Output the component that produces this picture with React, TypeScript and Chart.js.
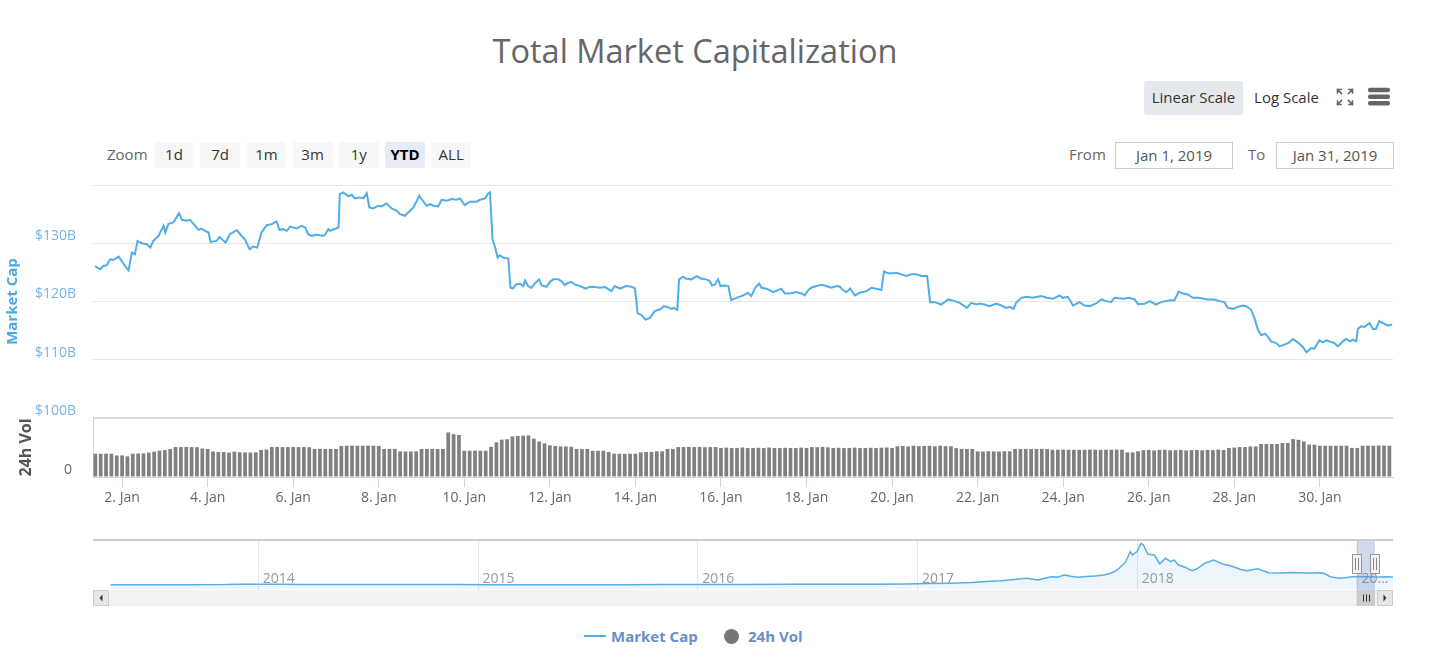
import React, { useEffect, useRef } from "react";
import { Chart, registerables } from "chart.js";

Chart.register(...registerables);

const FONT = "'Open Sans', sans-serif";
const LINE_COLOR = "#4fadea";

// ---- Main series: market cap (days after Jan 1 2019 00:00, $B) ----
const capDays = [
  0.37, 0.42, 0.49, 0.56, 0.64, 0.72, 0.8, 0.92, 0.99, 1.07, 1.15, 1.23, 1.3, 1.36, 1.46, 1.58, 1.66, 1.73, 1.85, 1.97,
  2.01, 2.08, 2.2, 2.33, 2.4, 2.51, 2.59, 2.71, 2.78, 2.86, 2.94, 3.02, 3.07, 3.21, 3.28, 3.35, 3.42, 3.52, 3.68, 3.76,
  3.87, 3.98, 4.07, 4.16, 4.26, 4.38, 4.5, 4.61, 4.68, 4.77, 4.85, 4.93, 5.08, 5.2, 5.28, 5.35, 5.43, 5.55, 5.67, 5.74,
  5.82, 5.86, 6.06, 6.09, 6.17, 6.29, 6.37, 6.44, 6.56, 6.64, 6.72, 6.78, 6.87, 6.99, 7.07, 7.18, 7.3, 7.42, 7.5, 7.61,
  7.73, 7.81, 7.89, 7.95, 8.0, 8.12, 8.2, 8.28, 8.39, 8.47, 8.59, 8.7, 8.82, 8.9, 9.01, 9.13, 9.29, 9.37, 9.48, 9.56,
  9.6, 9.66, 9.71, 9.78, 9.83, 9.91, 10.03, 10.08, 10.14, 10.21, 10.3, 10.38, 10.42, 10.49, 10.57, 10.65, 10.75, 10.81, 10.92, 11.0,
  11.08, 11.19, 11.27, 11.35, 11.43, 11.51, 11.58, 11.66, 11.74, 11.84, 11.93, 12.05, 12.17, 12.29, 12.44, 12.52, 12.64, 12.78, 12.91, 12.99,
  13.05, 13.14, 13.24, 13.34, 13.45, 13.57, 13.67, 13.76, 13.84, 13.9, 13.98, 14.02, 14.12, 14.19, 14.31, 14.43, 14.54, 14.66, 14.74, 14.79,
  14.86, 14.93, 14.99, 15.09, 15.17, 15.24, 15.36, 15.52, 15.63, 15.71, 15.79, 15.89, 15.95, 16.06, 16.14, 16.22, 16.33, 16.41, 16.49, 16.61,
  16.76, 16.88, 16.96, 17.04, 17.11, 17.23, 17.35, 17.46, 17.58, 17.7, 17.78, 17.85, 17.93, 18.02, 18.13, 18.24, 18.4, 18.52, 18.63, 18.75,
  18.81, 18.91, 19.02, 19.1, 19.22, 19.33, 19.45, 19.57, 19.68, 19.82, 19.89, 20.0, 20.15, 20.31, 20.46, 20.58, 20.67, 20.75, 20.85, 20.97,
  21.05, 21.16, 21.28, 21.44, 21.55, 21.67, 21.75, 21.84, 21.9, 22.02, 22.14, 22.29, 22.49, 22.62, 22.76, 22.92, 22.99, 23.11, 23.23, 23.38,
  23.5, 23.62, 23.77, 23.89, 24.01, 24.12, 24.2, 24.4, 24.55, 24.67, 24.75, 24.9, 25.03, 25.17, 25.29, 25.49, 25.6, 25.7, 25.8, 25.91,
  26.03, 26.15, 26.26, 26.38, 26.54, 26.65, 26.77, 26.85, 26.97, 27.08, 27.2, 27.28, 27.39, 27.47, 27.55, 27.63, 27.71, 27.78, 27.86, 27.98,
  28.06, 28.17, 28.29, 28.37, 28.45, 28.52, 28.6, 28.69, 28.8, 28.87, 28.99, 29.07, 29.15, 29.26, 29.34, 29.42, 29.54, 29.61, 29.71, 29.77,
  29.85, 29.89, 29.96, 30.04, 30.16, 30.24, 30.31, 30.39, 30.51, 30.59, 30.69,
];
const capValues = [
  126.09, 125.81, 125.52, 126.09, 126.21, 127.24, 127.13, 127.7, 126.96, 126.09, 125.35, 128.39, 128.1, 130.4, 130.0, 129.83, 129.25, 130.4, 131.27, 132.99,
  131.84, 133.28, 133.56, 135.17, 134.02, 133.85, 134.02, 132.99, 132.3, 132.53, 132.13, 131.84, 130.23, 130.4, 131.09, 130.58, 130.12, 131.55, 132.24, 131.55,
  130.69, 128.97, 129.43, 129.25, 131.84, 133.1, 133.28, 133.74, 132.3, 132.42, 132.13, 132.87, 132.53, 132.99, 132.7, 131.55, 131.27, 131.44, 131.27, 131.38,
  132.42, 132.13, 132.7, 138.45, 138.74, 138.05, 138.33, 137.7, 137.87, 137.7, 138.56, 136.15, 135.98, 136.44, 136.32, 136.84, 135.98, 135.58, 135.0, 134.71,
  135.58, 136.15, 137.3, 138.16, 137.59, 136.44, 136.73, 136.44, 136.32, 137.47, 137.3, 137.59, 137.47, 137.7, 136.55, 137.13, 137.13, 137.47, 137.7, 138.56,
  138.74, 130.69, 129.54, 127.53, 127.93, 127.53, 127.36, 122.36, 122.24, 122.93, 123.05, 122.65, 123.62, 122.65, 122.36, 123.11, 123.8, 122.76, 122.53, 123.34,
  123.8, 123.8, 123.51, 122.82, 123.22, 123.34, 122.93, 122.76, 122.53, 122.19, 122.53, 122.47, 122.36, 122.47, 121.78, 122.65, 122.19, 122.65, 122.53, 122.24,
  118.05, 117.65, 116.9, 117.19, 118.34, 118.62, 119.2, 119.02, 118.74, 118.91, 118.56, 123.8, 124.25, 123.91, 123.8, 124.37, 123.91, 123.8, 123.51, 122.76,
  122.93, 123.8, 122.65, 122.76, 122.65, 120.23, 120.63, 121.04, 121.5, 120.92, 122.24, 123.11, 122.36, 122.19, 121.96, 121.61, 121.96, 122.19, 121.38, 121.38,
  121.61, 121.38, 121.04, 121.96, 122.36, 122.65, 122.88, 122.65, 122.36, 122.65, 122.53, 121.96, 121.61, 122.24, 121.04, 121.5, 121.78, 122.36, 122.19, 121.96,
  125.17, 124.83, 124.83, 124.94, 124.66, 124.37, 124.66, 124.66, 124.37, 124.37, 119.89, 119.89, 119.48, 120.35, 120.06, 119.77, 119.31, 118.91, 119.77, 119.48,
  119.66, 119.48, 119.2, 119.66, 119.31, 118.91, 119.08, 118.74, 119.77, 120.63, 120.81, 120.63, 120.92, 120.63, 120.46, 121.04, 120.63, 120.81, 119.31, 119.89,
  119.31, 119.2, 119.66, 120.35, 120.06, 119.89, 120.63, 120.46, 120.63, 120.35, 119.54, 119.6, 120.06, 119.48, 119.89, 120.23, 120.23, 121.67, 121.38, 121.21,
  120.63, 120.63, 120.52, 120.35, 120.35, 120.06, 119.89, 118.91, 118.74, 119.08, 119.31, 119.2, 118.62, 117.19, 115.17, 114.2, 114.48, 114.02, 113.16, 112.87,
  112.3, 112.59, 112.99, 113.56, 113.16, 112.76, 112.19, 111.27, 112.01, 111.9, 113.33, 112.99, 113.33, 113.05, 112.87, 112.3, 113.16, 113.56, 113.16, 113.45,
  113.16, 115.29, 115.75, 115.63, 116.32, 115.29, 115.29, 116.61, 116.15, 115.86, 116.04,
];

// ---- 24h volume ($B), one bar every 3 hours starting Jan 1 09:00 ----
const volStartDay = 0.375;
const volStepDays = 0.125;
const volValues = [
  15.8, 15.8, 15.8, 15.8, 14.6, 14.6, 14.0, 15.8, 15.9, 16.0,
  16.5, 17.2, 17.8, 18.2, 19.0, 20.3, 20.3, 20.4, 20.3, 20.2,
  19.3, 19.0, 17.3, 17.0, 16.9, 16.6, 17.2, 16.8, 16.7, 16.6,
  16.7, 18.3, 18.6, 20.3, 20.4, 20.3, 20.3, 20.4, 20.3, 20.3,
  20.2, 19.0, 19.1, 19.0, 19.0, 19.0, 21.1, 21.2, 21.3, 21.2,
  21.2, 21.3, 21.2, 21.1, 19.0, 19.0, 19.1, 17.4, 17.3, 17.3,
  17.4, 19.0, 19.0, 19.1, 19.0, 19.0, 30.2, 29.0, 28.5, 17.8,
  17.8, 17.9, 17.8, 17.8, 20.5, 23.5, 25.3, 25.6, 27.5, 27.8,
  28.0, 28.2, 26.0, 24.1, 22.8, 21.5, 21.0, 20.7, 20.7, 20.5,
  19.0, 19.0, 19.0, 17.8, 17.8, 17.8, 17.0, 15.8, 15.8, 15.7,
  15.8, 15.8, 16.7, 17.0, 17.0, 17.4, 17.4, 19.0, 19.0, 20.3,
  20.3, 20.4, 20.3, 20.3, 20.2, 20.3, 20.3, 19.7, 19.9, 19.6,
  19.7, 20.0, 19.6, 19.7, 19.8, 19.6, 20.0, 19.7, 19.6, 19.8,
  19.7, 19.6, 19.9, 19.7, 20.3, 20.2, 20.4, 20.1, 19.7, 19.8,
  19.6, 19.7, 19.9, 19.6, 19.7, 19.8, 19.6, 19.9, 20.0, 19.7,
  20.8, 21.0, 20.7, 21.2, 20.9, 21.0, 21.1, 20.8, 21.2, 20.9,
  20.8, 19.6, 19.0, 19.0, 19.0, 17.4, 17.3, 17.5, 17.4, 17.3,
  17.5, 17.4, 19.0, 19.0, 19.1, 19.0, 19.0, 19.1, 19.0, 18.5,
  18.5, 18.6, 18.5, 18.4, 18.5, 18.5, 18.6, 18.5, 18.4, 18.5,
  18.5, 18.6, 18.5, 16.7, 16.7, 17.5, 18.2, 18.4, 18.0, 18.3,
  18.5, 18.1, 18.2, 18.4, 18.0, 18.2, 18.3, 18.1, 18.4, 18.2,
  18.6, 18.3, 19.7, 20.0, 20.3, 20.3, 20.7, 20.7, 22.4, 22.4,
  22.4, 22.4, 23.1, 23.1, 25.7, 25.2, 24.1, 22.0, 21.9, 21.2,
  21.2, 21.2, 21.2, 21.2, 21.2, 19.7, 19.7, 21.2, 21.3, 21.2,
  21.4, 21.3, 21.2,
];

const priceTicks = [100, 110, 120, 130, 140];
const dayTicks = [1, 3, 5, 7, 9, 11, 13, 15, 17, 19, 21, 23, 25, 27, 29];

// ---- Navigator: full history (year fraction, $B) ----
const navYears = [
  2013.33, 2013.5, 2013.7, 2013.85, 2013.92, 2014.0, 2014.1, 2014.2, 2014.35, 2014.5, 2014.7, 2014.9,
  2015.05, 2015.3, 2015.5, 2015.7, 2015.85, 2016.0, 2016.2, 2016.45, 2016.6, 2016.8, 2016.95,
  2017.05, 2017.15, 2017.25, 2017.33, 2017.38, 2017.42, 2017.46, 2017.5, 2017.55, 2017.61,
  2017.64, 2017.67, 2017.7, 2017.73, 2017.77, 2017.81, 2017.85, 2017.88, 2017.9, 2017.92,
  2017.95, 2017.97, 2017.98, 2018.0, 2018.02, 2018.03, 2018.05, 2018.08, 2018.105, 2018.13,
  2018.155, 2018.17, 2018.19, 2018.22, 2018.25, 2018.27, 2018.31, 2018.35, 2018.39, 2018.43,
  2018.47, 2018.5, 2018.55, 2018.6, 2018.66, 2018.7, 2018.74, 2018.79, 2018.84, 2018.86,
  2018.88, 2018.92, 2018.95, 2018.98, 2019.02, 2019.06, 2019.1, 2019.13, 2019.166,
];
const navValues = [
  1.5, 1.2, 1.6, 5, 14, 10, 11, 8, 6, 8, 6, 5,
  4, 3.5, 3.8, 3.6, 5, 7, 7.5, 10, 10.5, 12, 15,
  25, 32, 45, 70, 81, 95, 114, 127, 94, 158,
  150, 191, 165, 147, 160, 172, 190, 224, 260, 321,
  449, 642, 578, 642, 805, 772, 598, 578, 404, 514,
  449, 481, 385, 340, 274, 301, 418, 481, 404, 365,
  301, 274, 313, 236, 230, 240, 236, 232, 236, 205,
  158, 127, 140, 158, 160, 155, 150, 158, 152,
];
const navYearTicks = [2014, 2015, 2016, 2017, 2018, 2019];
const navFrom = 2019.0;
const navTo = 2019.084;

const zoomButtons = ["1d", "7d", "1m", "3m", "1y", "YTD", "ALL"];
const selectedZoom = "YTD";
const fromText = "Jan 1, 2019";
const toText = "Jan 31, 2019";

const navPlugin = {
  id: "navDecor",
  beforeDatasetsDraw(chart: any) {
    const { ctx, scales } = chart;
    const x = scales.x;
    ctx.save();
    ctx.strokeStyle = "#e6e6e6";
    ctx.lineWidth = 1;
    for (const yr of navYearTicks) {
      const px = Math.round(x.getPixelForValue(yr)) + 0.5;
      ctx.beginPath();
      ctx.moveTo(px, 5);
      ctx.lineTo(px, 55);
      ctx.stroke();
    }
    ctx.restore();
  },
  afterDatasetsDraw(chart: any) {
    const { ctx, scales, chartArea } = chart;
    const x = scales.x;
    ctx.save();
    // year labels
    ctx.font = `14px ${FONT}`;
    ctx.fillStyle = "#999999";
    ctx.textBaseline = "alphabetic";
    ctx.textAlign = "left";
    for (const yr of navYearTicks) {
      const lx = x.getPixelForValue(yr) + 5;
      let label = String(yr);
      const avail = chartArea.right - lx;
      if (ctx.measureText(label).width > avail) {
        while (label.length > 1 && ctx.measureText(label + "…").width > avail) label = label.slice(0, -1);
        label = label + "…";
      }
      ctx.fillText(label, lx, 48);
    }
    const x1 = x.getPixelForValue(navFrom);
    const x2 = x.getPixelForValue(navTo);
    // mask
    ctx.fillStyle = "rgba(102,133,194,0.3)";
    ctx.fillRect(x1, 5, x2 - x1, 50);
    // outline
    ctx.strokeStyle = "#cccccc";
    ctx.lineWidth = 2;
    ctx.beginPath();
    ctx.moveTo(chartArea.left, 5);
    ctx.lineTo(chartArea.right, 5);
    ctx.stroke();
    // handles
    for (const hx of [x1, x2]) {
      const cx = Math.round(hx);
      ctx.fillStyle = "#f2f2f2";
      ctx.strokeStyle = "#999999";
      ctx.lineWidth = 1;
      ctx.fillRect(cx - 4.5, 19.5, 9, 19);
      ctx.strokeRect(cx - 4.5, 19.5, 9, 19);
      ctx.strokeStyle = "#888888";
      ctx.beginPath();
      ctx.moveTo(cx - 1.5, 23);
      ctx.lineTo(cx - 1.5, 35);
      ctx.moveTo(cx + 1.5, 23);
      ctx.lineTo(cx + 1.5, 35);
      ctx.stroke();
    }
    // scrollbar track
    const sy = 55;
    const sh = 16;
    ctx.fillStyle = "#f2f2f2";
    ctx.fillRect(chartArea.left, sy, chartArea.right - chartArea.left, sh);
    // thumb
    ctx.fillStyle = "#cccccc";
    ctx.fillRect(x1, sy, x2 - x1, sh);
    const tc = Math.round((x1 + x2) / 2) + 0.5;
    ctx.strokeStyle = "#333333";
    ctx.lineWidth = 1;
    ctx.beginPath();
    for (const d of [-3, 0, 3]) {
      ctx.moveTo(tc + d, sy + 4.5);
      ctx.lineTo(tc + d, sy + 11.5);
    }
    ctx.stroke();
    // buttons
    const drawBtn = (bx: number, dir: number) => {
      ctx.fillStyle = "#e6e6e6";
      ctx.fillRect(bx, sy, 16, sh);
      ctx.strokeStyle = "#cccccc";
      ctx.strokeRect(bx + 0.5, sy + 0.5, 15, sh - 1);
      ctx.fillStyle = "#333333";
      ctx.beginPath();
      const mx = bx + 8;
      const my = sy + 8;
      ctx.moveTo(mx - 1.5 * dir, my);
      ctx.lineTo(mx + 1.5 * dir, my - 3.5);
      ctx.lineTo(mx + 1.5 * dir, my + 3.5);
      ctx.closePath();
      ctx.fill();
    };
    drawBtn(chartArea.left, 1);
    drawBtn(chartArea.right - 16, -1);
    ctx.restore();
  },
};

const abs = (left: number, top: number, extra: any = {}) => ({
  position: "absolute" as const,
  left,
  top,
  ...extra,
});

export default function App() {
  const mainRef = useRef<HTMLCanvasElement | null>(null);
  const navRef = useRef<HTMLCanvasElement | null>(null);

  useEffect(() => {
    if (!mainRef.current || !navRef.current) return;
    const main = new Chart(mainRef.current, {
      type: "bar",
      data: {
        datasets: [
          {
            type: "line",
            label: "Market Cap",
            data: capDays.map((d, i) => ({ x: d, y: capValues[i] })),
            yAxisID: "y",
            xAxisID: "x",
            borderColor: LINE_COLOR,
            borderWidth: 2,
            pointRadius: 0,
            tension: 0,
            fill: false,
            order: 0,
          } as any,
          {
            type: "bar",
            label: "24h Vol",
            data: volValues.map((v, i) => ({ x: volStartDay + i * volStepDays, y: v })),
            yAxisID: "yv",
            xAxisID: "x",
            backgroundColor: "#808080",
            borderWidth: 0,
            barPercentage: 0.7,
            categoryPercentage: 1,
            order: 1,
          } as any,
        ],
      },
      options: {
        responsive: false,
        animation: false,
        layout: { padding: { top: 10, right: 51, left: 0, bottom: 0 } },
        plugins: { legend: { display: false }, tooltip: { enabled: false }, title: { display: false } },
        scales: {
          x: {
            type: "linear",
            offset: false,
            min: 0.32,
            max: 30.71,
            afterBuildTicks: (s: any) => {
              s.ticks = dayTicks.map((v) => ({ value: v }));
            },
            afterFit: (s: any) => {
              s.height = 38;
            },
            grid: { display: true, offset: false, drawOnChartArea: false, drawTicks: true, tickLength: 10, color: "#ccd6eb" },
            border: { display: true, color: "#ccd6eb" },
            ticks: {
              autoSkip: false,
              maxRotation: 0,
              color: "#666666",
              padding: 3,
              font: { size: 14, family: FONT },
              callback: (v: any) => `${Number(v) + 1}. Jan`,
            },
          },
          y: {
            type: "linear",
            position: "left",
            stack: "main",
            stackWeight: 233,
            weight: 1,
            min: 100,
            max: 140,
            afterBuildTicks: (s: any) => {
              s.ticks = priceTicks.map((v) => ({ value: v }));
            },
            afterFit: (s: any) => {
              s.width = 93;
            },
            grid: {
              drawTicks: true,
              tickLength: 17,
              tickColor: "rgba(0,0,0,0)",
              color: (c: any) => (c.tick && c.tick.value === 100 ? "#d9d9d9" : "#e6e6e6"),
              lineWidth: (c: any) => (c.tick && c.tick.value === 100 ? 2 : 1),
            },
            border: { display: false },
            ticks: {
              padding: 0,
              labelOffset: -7,
              color: "#74b5e7",
              font: { size: 14, family: FONT },
              callback: (v: any) => (v === 140 ? "" : `$${v}B`),
            },
            title: {
              display: true,
              text: "Market Cap",
              color: "#4ba9e3",
              font: { size: 15, weight: "bold", family: FONT },
              padding: { top: 4, bottom: 0 },
            },
          },
          yv: {
            type: "linear",
            position: "left",
            stack: "main",
            stackWeight: 59,
            weight: 0,
            min: 0,
            max: 40,
            afterBuildTicks: (s: any) => {
              s.ticks = [{ value: 0 }];
            },
            afterFit: (s: any) => {
              s.width = 93;
            },
            grid: { display: true, drawOnChartArea: false, drawTicks: true, tickLength: 21, tickColor: "rgba(0,0,0,0)" },
            border: { display: true, color: "#ccd6eb" },
            ticks: {
              padding: 0,
              labelOffset: -7,
              color: "#666666",
              font: { size: 14, family: FONT },
              callback: (v: any) => String(v),
            },
            title: {
              display: true,
              text: "24h Vol",
              color: "#555555",
              font: { size: 16, weight: "bold", family: FONT },
              padding: { top: 17, bottom: 0 },
            },
          },
        } as any,
      },
    });

    const nav = new Chart(navRef.current, {
      type: "line",
      data: {
        datasets: [
          {
            data: navYears.map((x, i) => ({ x, y: navValues[i] })),
            borderColor: "#5aaee6",
            borderWidth: 1.5,
            pointRadius: 0,
            tension: 0,
            fill: "start",
            backgroundColor: "rgba(124,181,236,0.13)",
          },
        ],
      },
      options: {
        responsive: false,
        animation: false,
        layout: { padding: { left: 93, right: 51, top: 7, bottom: 21 } },
        plugins: { legend: { display: false }, tooltip: { enabled: false } },
        scales: {
          x: { type: "linear", display: false, min: 2013.25, max: 2019.166 },
          y: { type: "linear", display: false, min: -80, max: 830 },
        },
      },
      plugins: [navPlugin],
    });

    return () => {
      main.destroy();
      nav.destroy();
    };
  }, []);

  const text15 = { fontFamily: FONT, fontSize: 15, whiteSpace: "nowrap" as const };

  return (
    <div style={{ position: "absolute", left: 0, top: 0, width: 1444, height: 662, background: "#fff", fontFamily: FONT }}>
      <div style={abs(0, 31, { width: 1390, textAlign: "center", fontSize: 32.5, lineHeight: "40px", color: "#666666" })}>
        Total Market Capitalization
      </div>

      {/* scale buttons */}
      <div
        style={abs(1144, 81, {
          ...text15,
          width: 99,
          height: 34,
          lineHeight: "33px",
          textAlign: "center",
          background: "#e5e8ed",
          borderRadius: 3,
          color: "#333",
        })}
      >
        Linear Scale
      </div>
      <div style={abs(1246, 81, { ...text15, width: 81, height: 34, lineHeight: "33px", textAlign: "center", color: "#333" })}>
        Log Scale
      </div>
      <svg style={abs(1336, 88)} width={18} height={18} viewBox="0 0 18 18">
        <g stroke="#666" strokeWidth={1.6} fill="none" strokeLinecap="square">
          <path d="M1.5 5 V1.5 H5 M1.5 1.5 L5.5 5.5" />
          <path d="M13 1.5 H16.5 V5 M16.5 1.5 L12.5 5.5" />
          <path d="M1.5 13 V16.5 H5 M1.5 16.5 L5.5 12.5" />
          <path d="M16.5 13 V16.5 H13 M16.5 16.5 L12.5 12.5" />
        </g>
      </svg>
      <svg style={abs(1368, 87)} width={22} height={19} viewBox="0 0 22 19">
        <rect x={0} y={0.8} width={22} height={4.5} rx={2} fill="#666" />
        <rect x={0} y={7.4} width={22} height={4.5} rx={2} fill="#666" />
        <rect x={0} y={14} width={22} height={4.5} rx={2} fill="#666" />
      </svg>

      {/* zoom buttons */}
      <div style={abs(107, 141, { ...text15, height: 26, lineHeight: "26px", color: "#666" })}>Zoom</div>
      {zoomButtons.map((b, i) => {
        const sel = b === selectedZoom;
        return (
          <div
            key={b}
            style={abs(154 + i * 46.2, 142, {
              ...text15,
              width: 40,
              height: 26,
              lineHeight: "25px",
              textAlign: "center",
              background: sel ? "#e6ebf5" : "#f7f7f7",
              borderRadius: 2,
              color: sel ? "#000" : "#333",
              fontWeight: sel ? 700 : 400,
            })}
          >
            {b}
          </div>
        );
      })}

      {/* range inputs */}
      <div style={abs(1069, 141, { ...text15, height: 26, lineHeight: "26px", color: "#666" })}>From</div>
      <div
        style={abs(1115, 142, {
          ...text15,
          width: 118,
          height: 27,
          lineHeight: "24px",
          boxSizing: "border-box",
          border: "1px solid #cccccc",
          textAlign: "center",
          color: "#555",
        })}
      >
        {fromText}
      </div>
      <div style={abs(1248, 141, { ...text15, height: 26, lineHeight: "26px", color: "#666" })}>To</div>
      <div
        style={abs(1276, 142, {
          ...text15,
          width: 118,
          height: 27,
          lineHeight: "24px",
          boxSizing: "border-box",
          border: "1px solid #cccccc",
          textAlign: "center",
          color: "#555",
        })}
      >
        {toText}
      </div>

      <canvas ref={mainRef} width={1444} height={340} style={abs(0, 175, { width: 1444, height: 340 })} />
      <canvas ref={navRef} width={1444} height={75} style={abs(0, 535, { width: 1444, height: 75 })} />

      {/* legend */}
      <svg style={abs(583, 630)} width={24} height={12}>
        <line x1={1} y1={6} x2={23} y2={6} stroke={LINE_COLOR} strokeWidth={2} />
      </svg>
      <div style={abs(611, 624, { ...text15, fontWeight: 700, height: 24, lineHeight: "24px", color: "#6a8ec9" })}>
        Market Cap
      </div>
      <div style={abs(724, 629, { width: 15, height: 15, borderRadius: "50%", background: "#777777" })} />
      <div style={abs(748, 624, { ...text15, fontWeight: 700, height: 24, lineHeight: "24px", color: "#6a8ec9" })}>
        24h Vol
      </div>
    </div>
  );
}
